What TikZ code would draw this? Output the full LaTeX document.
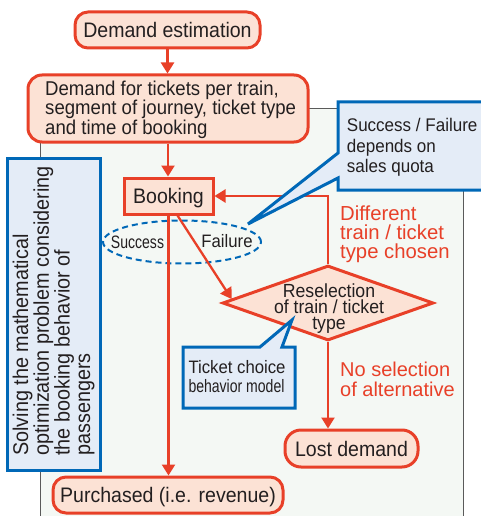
\documentclass[tikz,border=0pt]{standalone}
\usepackage{fontspec}
\setmainfont[FakeStretch=0.93]{Liberation Sans}
\newfontfamily\plainfont{Liberation Sans}
\newfontfamily\narrowfont[FakeStretch=0.78]{Liberation Sans}
\usetikzlibrary{arrows.meta,shapes.geometric,calc}

\definecolor{flowred}{RGB}{232,64,40}
\definecolor{peach}{RGB}{252,226,213}
\definecolor{noteblue}{RGB}{0,104,183}
\definecolor{notefill}{RGB}{228,236,247}
\definecolor{panelfill}{RGB}{244,248,244}
\definecolor{panelline}{RGB}{90,90,90}
\definecolor{ink}{RGB}{35,31,32}

\tikzset{
  flowbox/.style={draw=flowred, fill=peach, line width=3pt, text=ink, inner sep=0pt},
  pillbox/.style={flowbox, rounded corners=13pt, font=\fontsize{21}{21}\selectfont,
    text height=15.3pt, text depth=0pt},
  flowarrow/.style={draw=flowred, line width=2.3pt, -{Triangle[length=11pt,width=13pt]}},
  notebox/.style={draw=noteblue, fill=notefill, line width=3pt, line join=miter},
  flowlabel/.style={text=flowred, anchor=north west, inner sep=0pt, align=left},
  notetext/.style={text=ink, anchor=north west, inner sep=0pt, align=left},
}

\begin{document}
\begin{tikzpicture}[x=1pt,y=-1pt]
\useasboundingbox (0,0) rectangle (480,516);

% light panel behind the booking process
\path[fill=panelfill, draw=panelline, line width=0.8pt] (40,108) rectangle (463,540);

% side note on the optimization problem
\node[notebox, minimum width=93pt, minimum height=312pt] (solvebox) at (53.5,314) {};
\node[notetext, rotate=90, font=\fontsize{21.3}{20.7}\selectfont] (solve) at (12.5,456)
  {Solving the mathematical\\optimization problem considering\\the booking behavior of\\passengers};

% main flow
\node[pillbox, minimum width=185pt, minimum height=36pt] (est) at (167.5,30) {Demand estimation};
\node[flowbox, rounded corners=14pt, minimum width=280pt, minimum height=67pt] (dem) at (168,108.5) {};
\node[notetext, font=\fontsize{20}{18.3}\selectfont] (demtext) at (45,80.4)
  {Demand for tickets per train,\\segment of journey, ticket type\\and time of booking};

\node[flowbox, minimum width=89pt, minimum height=36pt, font=\fontsize{21}{21}\selectfont,
  text height=15.3pt, text depth=0pt] (book) at (168.5,196) {Booking};

\node[ellipse, draw=noteblue, line width=2pt, dash pattern=on 6pt off 4pt,
  minimum width=158pt, minimum height=43pt, inner sep=0pt] (ell) at (182,242) {};
\node[text=ink, inner sep=0pt, font=\narrowfont\fontsize{18}{18}\selectfont] (succ) at (137.5,242) {Success};
\node[text=ink, inner sep=0pt, font=\fontsize{18}{18}\selectfont] (fail) at (227,241.5) {Failure};

\node[diamond, flowbox, minimum width=211pt, minimum height=75pt] (dia) at (328,303) {};
\node[text=ink, inner sep=0pt, align=center, anchor=north, font=\fontsize{19}{15.6}\selectfont]
  (diatext) at (329,284) {Reselection\\of train / ticket\\type};

\node[pillbox, minimum width=133pt, minimum height=37pt, rounded corners=16pt] (lost) at (351.5,448.5) {Lost demand};
\node[pillbox, minimum width=230pt, minimum height=36pt] (purch) at (168,495) {Purchased (i.e. revenue)};

% branch labels
\node[flowlabel, font=\plainfont\fontsize{20.3}{18.8}\selectfont] (chosen) at (340,205.9)
  {Different\\train / ticket\\type chosen};
\node[flowlabel, font=\plainfont\fontsize{20}{20}\selectfont] (noalt) at (340,361.4)
  {No selection\\of alternative};

% connectors
\draw[flowarrow] (est.south) -- (est.south |- dem.north);
\draw[flowarrow] (dem.south) -- (dem.south |- book.north);
\draw[flowarrow] (book.south) -- (book.south |- purch.north);
\draw[flowarrow] ([xshift=9pt]book.south) -- ($(dia.west)!0.1!(dia.north)$);
\draw[flowarrow] (dia.north) |- (book.east);
\draw[flowarrow] (dia.south) -- (dia.south |- lost.north);

% callouts
\path[notebox] (338,102) -- (490,102) -- (490,190) -- (338,190) -- (338,178)
  -- (248,224) -- (338,153) -- cycle;
\node[notetext, font=\fontsize{18.3}{20.5}\selectfont] (quota) at (346.7,118.3)
  {Success / Failure\\depends on\\sales quota};

\path[notebox] (183,347) -- (260,347) -- (292,320) -- (282,347) -- (295,347)
  -- (295,408) -- (183,408) -- cycle;
\node[notetext, font=\fontsize{18}{19.4}\selectfont] (choice) at (188.3,360.2)
  {Ticket choice\\{\narrowfont behavior model}};
\end{tikzpicture}
\end{document}
